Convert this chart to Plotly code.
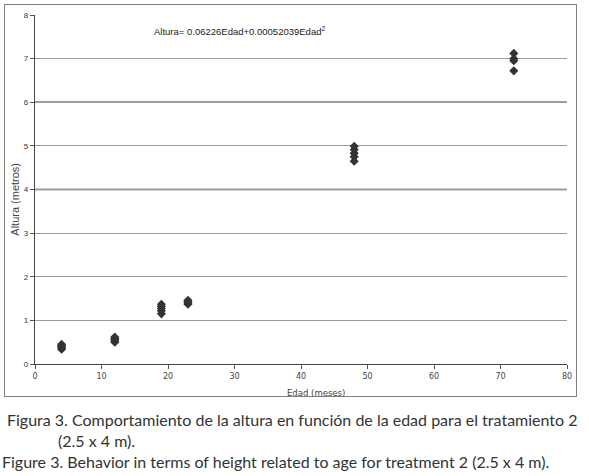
import plotly.graph_objects as go

# Data
edad = [4, 4, 4, 4, 4,
        12, 12, 12, 12, 12,
        19, 19, 19, 19, 19,
        23, 23, 23, 23,
        48, 48, 48, 48, 48,
        72, 72, 72, 72]
altura = [0.34, 0.37, 0.40, 0.42, 0.45,
          0.50, 0.53, 0.56, 0.59, 0.62,
          1.15, 1.22, 1.27, 1.32, 1.37,
          1.37, 1.40, 1.43, 1.46,
          4.65, 4.75, 4.83, 4.91, 4.99,
          6.72, 6.95, 7.00, 7.12]

x_ticks = [0, 10, 20, 30, 40, 50, 60, 70, 80]
y_ticks = [0, 1, 2, 3, 4, 5, 6, 7, 8]
dark_grid = [4, 6]

equation = "Altura= 0.06226Edad+0.00052039Edad<sup>2</sup>"
x_title = "Edad (meses)"
y_title = "Altura (metros)"
caption_es_1 = "Figura 3. Comportamiento de la altura en función de la edad para el tratamiento 2"
caption_es_2 = "(2.5 x 4 m)."
caption_en = "Figure 3. Behavior in terms of height related to age for treatment 2 (2.5 x 4 m)."

fig = go.Figure()
fig.add_trace(go.Scatter(
    x=edad, y=altura, mode="markers",
    marker=dict(symbol="diamond", size=7, color="#333333", line=dict(width=0)),
    showlegend=False, hoverinfo="x+y"))

fig.update_layout(
    width=589, height=476,
    margin=dict(l=35, r=22, t=15, b=112, autoexpand=False),
    paper_bgcolor="white", plot_bgcolor="white",
    font=dict(family="DejaVu Sans", size=8, color="#333333"),
    xaxis=dict(range=[0, 80], tickvals=x_ticks, ticks="outside", ticklen=4,
               tickcolor="#555", showgrid=False, zeroline=False, automargin=False,
               showline=True, linecolor="#444", linewidth=1.2,
               tickfont=dict(size=8, family="DejaVu Sans", color="#444")),
    yaxis=dict(range=[0, 8], tickvals=y_ticks, ticks="outside", ticklen=4,
               tickcolor="#555", showgrid=True, gridcolor="#9a9a9a", gridwidth=1,
               zeroline=False, showline=True, linecolor="#444", linewidth=1.2,
               automargin=False,
               tickfont=dict(size=8, family="Liberation Sans", color="#333")),
)

for yv in dark_grid:
    fig.add_shape(type="line", xref="x", yref="y", x0=0, x1=80, y0=yv, y1=yv,
                  line=dict(color="#444444", width=1.3), layer="below")

# outer chart frame (a bordered, empty annotation box)
fig.add_annotation(text=" ", xref="paper", yref="paper", x=0.4805, y=0.468,
                   xanchor="center", yanchor="middle", showarrow=False,
                   width=571, height=391, borderpad=0,
                   bordercolor="#808080", borderwidth=1)

# axis titles
fig.add_annotation(text=x_title, xref="paper", yref="paper", x=0.528, y=-0.083,
                   xanchor="center", yanchor="middle", showarrow=False,
                   font=dict(size=8.5, family="DejaVu Sans", color="#444"))
fig.add_annotation(text=y_title, xref="paper", yref="paper", x=-0.038, y=0.473,
                   xanchor="center", yanchor="middle", showarrow=False, textangle=-90,
                   font=dict(size=11, family="Liberation Sans", color="#444"))

fig.add_annotation(text=equation, xref="x", yref="y", x=17.6, y=7.64,
                   xanchor="left", yanchor="middle", showarrow=False,
                   font=dict(size=9.5, family="Liberation Sans", color="#222"))

cap_font = dict(size=16, family="Lato", color="#333333")
fig.add_annotation(text=caption_es_1, xref="paper", yref="paper", x=-0.0555, y=-0.158,
                   xanchor="left", yanchor="middle", showarrow=False, font=cap_font)
fig.add_annotation(text=caption_es_2, xref="paper", yref="paper", x=0.040, y=-0.218,
                   xanchor="left", yanchor="middle", showarrow=False, font=cap_font)
fig.add_annotation(text=caption_en, xref="paper", yref="paper", x=-0.066, y=-0.278,
                   xanchor="left", yanchor="middle", showarrow=False, font=cap_font)

fig.write_html("out.html", config={"displayModeBar": False},
               post_script="document.body.style.margin='0';")
